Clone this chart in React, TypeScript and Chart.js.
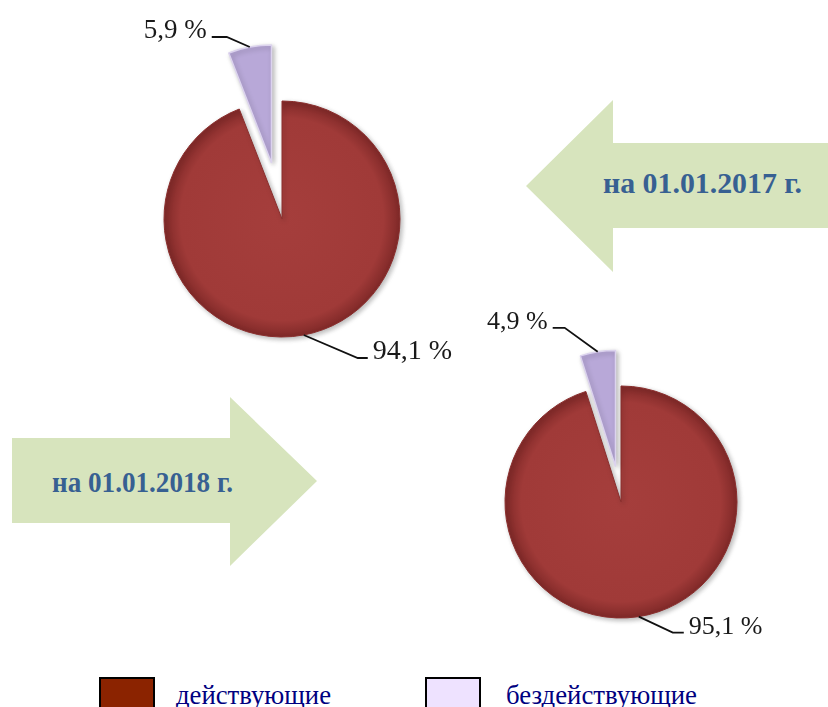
import React, { useEffect, useRef } from 'react';
import { Chart, registerables } from 'chart.js';

Chart.register(...registerables);

// ---------- data ----------
const categories = ['действующие', 'бездействующие'];
const values2017 = [94.1, 5.9];
const values2018 = [95.1, 4.9];
const periods = ['на 01.01.2017 г.', 'на 01.01.2018 г.'];

// ---------- styles ----------
const PIE_COLORS = ['#A13B39', '#B8A8D8'];
const PIE_BORDERS = ['#8A2E2D', '#DCD3EE'];
const LEGEND_COLORS = ['#8B2300', '#EEE2FF'];
const ARROW_COLOR = '#D7E4BD';
const ARROW_TEXT = '#376092';
const SERIF = '"Liberation Serif", "Times New Roman", serif';
const SIZE = 480;

type LabelStyle = { dx: number; dy: number; tail: number; font: number };

const fmt = (v: number) => v.toFixed(1).replace('.', ',') + ' %';

const explodePlugin = {
  id: 'explode',
  afterUpdate(chart: any) {
    chart.data.datasets.forEach((ds: any, di: number) => {
      const meta = chart.getDatasetMeta(di);
      const ex: number[] = ds.explode || [];
      meta.data.forEach((arc: any, i: number) => {
        const e = ex[i] || 0;
        if (!e) return;
        const mid = (arc.startAngle + arc.endAngle) / 2;
        arc.x += Math.cos(mid) * e;
        arc.y += Math.sin(mid) * e;
      });
    });
  },
};

const shadowPlugin = {
  id: 'softShadow',
  beforeDatasetsDraw(chart: any) {
    const ctx = chart.ctx;
    ctx.save();
    ctx.shadowColor = 'rgba(0,0,0,0.28)';
    ctx.shadowBlur = 5;
    ctx.shadowOffsetX = 2;
    ctx.shadowOffsetY = 2;
  },
  afterDatasetsDraw(chart: any) {
    chart.ctx.restore();
  },
};

const leaderPlugin = {
  id: 'leaders',
  afterDatasetsDraw(chart: any, _args: any, opts: any) {
    const ctx = chart.ctx;
    const meta = chart.getDatasetMeta(0);
    const values = chart.data.datasets[0].data as number[];
    const styles: LabelStyle[] = opts.styles || [];
    meta.data.forEach((arc: any, i: number) => {
      const st = styles[i];
      if (!st) return;
      const mid = (arc.startAngle + arc.endAngle) / 2;
      const sx = arc.x + Math.cos(mid) * arc.outerRadius;
      const sy = arc.y + Math.sin(mid) * arc.outerRadius;
      const ex = sx + st.dx;
      const ey = sy + st.dy;
      const dir = st.dx < 0 ? -1 : 1;
      const tx = ex + dir * st.tail;
      ctx.save();
      ctx.strokeStyle = '#111';
      ctx.lineWidth = 1.8;
      ctx.beginPath();
      ctx.moveTo(sx, sy);
      ctx.lineTo(ex, ey);
      ctx.lineTo(tx, ey);
      ctx.stroke();
      ctx.font = `${st.font}px ${SERIF}`;
      ctx.fillStyle = '#1a1a1a';
      ctx.textAlign = dir < 0 ? 'right' : 'left';
      ctx.textBaseline = 'alphabetic';
      ctx.fillText(fmt(values[i]), tx + dir * 5, ey + 1);
      ctx.restore();
    });
  },
};

function PieChart(props: {
  values: number[];
  center: [number, number];
  radius: number;
  explode: number[];
  styles: LabelStyle[];
}) {
  const ref = useRef<HTMLCanvasElement>(null);
  const { values, center, radius, explode, styles } = props;
  useEffect(() => {
    const chart = new Chart(ref.current as HTMLCanvasElement, {
      type: 'pie',
      data: {
        labels: categories,
        datasets: [
          {
            data: values,
            explode,
            backgroundColor: (c: any) => {
              const { chart: ch, dataIndex } = c;
              const area = ch.chartArea;
              if (!area || dataIndex !== 0) return PIE_COLORS[dataIndex];
              const cx = (area.left + area.right) / 2;
              const cy = (area.top + area.bottom) / 2;
              const g = ch.ctx.createRadialGradient(cx, cy, 0, cx, cy, radius);
              g.addColorStop(0, '#A53E3C');
              g.addColorStop(0.86, '#A03A38');
              g.addColorStop(1, '#802928');
              return g;
            },
            borderColor: PIE_BORDERS,
            borderWidth: [1, 1.5],
          } as any,
        ],
      },
      options: {
        responsive: false,
        animation: false,
        events: [],
        radius,
        plugins: {
          legend: { display: false },
          tooltip: { enabled: false },
          leaders: { styles },
        } as any,
      } as any,
      plugins: [explodePlugin, shadowPlugin, leaderPlugin],
    });
    return () => chart.destroy();
  }, []);
  return (
    <canvas
      ref={ref}
      width={SIZE}
      height={SIZE}
      style={{
        position: 'absolute',
        left: center[0] - SIZE / 2,
        top: center[1] - SIZE / 2,
        width: SIZE,
        height: SIZE,
      }}
    />
  );
}

export default function App() {
  return (
    <div
      style={{
        position: 'absolute',
        left: 0,
        top: 0,
        width: 828,
        height: 707,
        overflow: 'hidden',
        background: '#fff',
      }}
    >
      <svg width={828} height={707} style={{ position: 'absolute', left: 0, top: 0 }}>
        <polygon
          points="526,186 613,100 613,143 828,143 828,228 613,228 613,272"
          fill={ARROW_COLOR}
        />
        <polygon
          points="12,438 230,438 230,397 317,481 230,566 230,523 12,523"
          fill={ARROW_COLOR}
        />
        <text
          x={603}
          y={193}
          fontFamily={SERIF}
          fontWeight="bold"
          fontSize={29}
          fill={ARROW_TEXT}
          textLength={199}
          lengthAdjust="spacingAndGlyphs"
        >
          {periods[0]}
        </text>
        <text
          x={52}
          y={492}
          fontFamily={SERIF}
          fontWeight="bold"
          fontSize={29}
          fill={ARROW_TEXT}
          textLength={181}
          lengthAdjust="spacingAndGlyphs"
        >
          {periods[1]}
        </text>
        {categories.map((c, i) => (
          <g key={c}>
            <rect
              x={100 + i * 326}
              y={678}
              width={54}
              height={36}
              fill={LEGEND_COLORS[i]}
              stroke="#000"
              strokeWidth={2}
            />
            <text
              x={176 + i * 330}
              y={704}
              fontFamily={SERIF}
              fontSize={27}
              fill="#000080"
              textLength={i === 0 ? 155 : 191}
              lengthAdjust="spacingAndGlyphs"
            >
              {c}
            </text>
          </g>
        ))}
      </svg>
      <PieChart
        values={values2017}
        center={[282, 219]}
        radius={118}
        explode={[0, 57]}
        styles={[
          { dx: 54, dy: 23, tail: 10, font: 28 },
          { dx: -23, dy: -10, tail: 15, font: 27 },
        ]}
      />
      <PieChart
        values={values2018}
        center={[621, 502]}
        radius={116}
        explode={[0, 36]}
        styles={[
          { dx: 34, dy: 16, tail: 11, font: 26 },
          { dx: -33, dy: -24, tail: 12, font: 26 },
        ]}
      />
    </div>
  );
}
